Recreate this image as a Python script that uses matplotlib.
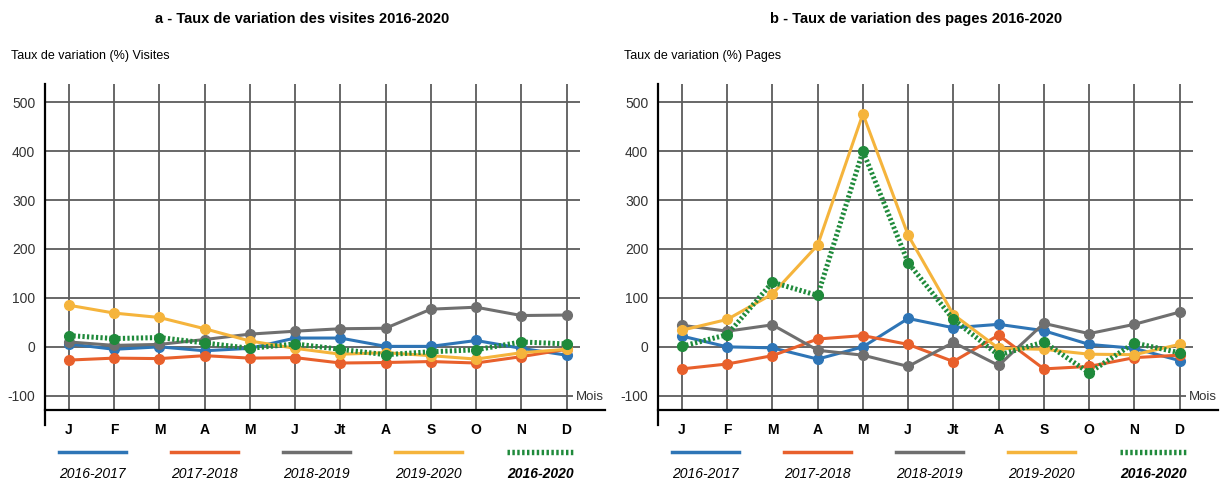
import numpy as np
import matplotlib.pyplot as plt
from matplotlib.lines import Line2D

plt.rcParams['font.family'] = ['Liberation Sans', 'DejaVu Sans']

mois = ['J', 'F', 'M', 'A', 'M', 'J', 'Jt', 'A', 'S', 'O', 'N', 'D']
periodes = ['2016-2017', '2017-2018', '2018-2019', '2019-2020', '2016-2020']

# Taux de variation des visites (%)
v_1617 = [6, -5, 0, -8, -3, 18, 18, 1, 1, 13, -3, -17]
v_1718 = [-27, -23, -24, -18, -23, -22, -33, -32, -30, -33, -20, -5]
v_1819 = [10, 3, 5, 15, 26, 32, 37, 38, 77, 81, 64, 65]
v_1920 = [85, 69, 60, 37, 12, -3, -15, -12, -18, -25, -12, -5]
v_1620 = [23, 17, 19, 8, -3, 6, -5, -16, -10, -6, 10, 6]

# Taux de variation des pages (%)
p_1617 = [22, 0, -2, -25, 0, 58, 39, 46, 33, 5, -3, -28]
p_1718 = [-45, -35, -18, 16, 23, 5, -30, 24, -45, -40, -22, -17]
p_1819 = [44, 32, 45, -7, -17, -40, 9, -38, 48, 27, 46, 71]
p_1920 = [34, 56, 108, 208, 476, 228, 66, -3, -5, -15, -16, 5]
p_1620 = [1, 25, 132, 105, 400, 172, 56, -17, 10, -53, 8, -12]

yticks = [-100, 0, 100, 200, 300, 400, 500]

couleurs = ['#2e75b6', '#e8602c', '#6f6f6f', '#f5b43c', '#1f8a3b']
styles = ['-', '-', '-', '-', (0, (0.45, 0.45))]
largeurs = [2.2, 2.2, 2.2, 2.2, 3.6]

fig = plt.figure(figsize=(12.22, 4.83), dpi=100)
ax_a = fig.add_axes([45 / 1222, 73 / 483, 560 / 1222, 326 / 483])
ax_b = fig.add_axes([658 / 1222, 73 / 483, 560 / 1222, 326 / 483])


def panneau(ax, series, titre, ylab):
    x = np.arange(len(mois))
    ax.set_xlim(-0.53, 11.85)
    ax.set_ylim(-129, 537)
    # grille faite a la main
    ax.hlines(yticks[1:], -0.53, 11.3, color='#5c5c5c', lw=1.3, zorder=1)
    ax.hlines(yticks[0], -0.53, 11.15, color='#5c5c5c', lw=1.3, zorder=1)
    ax.vlines(x, -129, 537, color='#5c5c5c', lw=1.3, zorder=1)
    for i, yy in enumerate(series):
        ax.plot(x, yy, color=couleurs[i], ls=styles[i], lw=largeurs[i],
                marker='o', ms=7, zorder=3 + i)
    for s in ['top', 'right']:
        ax.spines[s].set_visible(False)
    ax.spines['left'].set_linewidth(1.6)
    ax.spines['bottom'].set_linewidth(1.6)
    ax.spines['left'].set_bounds(-160, 537)
    ax.set_yticks(yticks)
    ax.set_yticklabels([str(t) for t in yticks], fontsize=10, color='#333333')
    ax.set_xticks(x)
    ax.set_xticklabels(mois, fontsize=10, fontweight='bold')
    ax.tick_params(length=0, pad=7)
    ax.tick_params(axis='x', pad=9)
    ax.text(11.2, -103, 'Mois', fontsize=9.5, color='#333333', ha='left', va='center')
    ax.text(0.46, 1.2, titre, transform=ax.transAxes, ha='center', va='center',
            fontsize=10.5, fontweight='bold')
    ax.text(-0.06, 1.085, ylab, transform=ax.transAxes, ha='left', va='center',
            fontsize=9)
    # legende en bas
    for i, p in enumerate(periodes):
        cx = 0.085 + i * 0.2
        ax.add_line(Line2D([cx - 0.06, cx + 0.06], [-0.13, -0.13], transform=ax.transAxes,
                           color=couleurs[i], ls=styles[i], lw=largeurs[i] + 0.3,
                           clip_on=False))
        ax.text(cx, -0.195, p, transform=ax.transAxes, ha='center', va='center',
                fontsize=10, style='italic',
                fontweight='bold' if i == 4 else 'normal')


panneau(ax_a, [v_1617, v_1718, v_1819, v_1920, v_1620],
        'a - Taux de variation des visites 2016-2020', 'Taux de variation (%) Visites')
panneau(ax_b, [p_1617, p_1718, p_1819, p_1920, p_1620],
        'b - Taux de variation des pages 2016-2020', 'Taux de variation (%) Pages')

fig.savefig('out.png', dpi=100)
